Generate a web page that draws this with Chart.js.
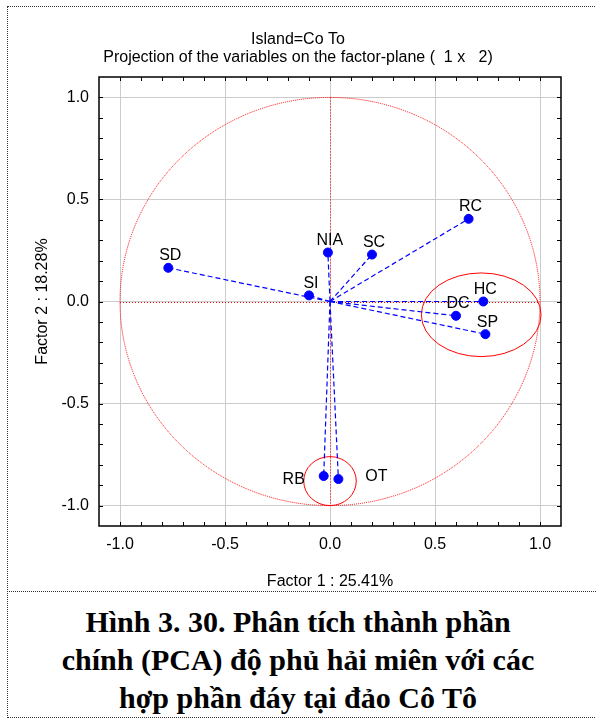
<!DOCTYPE html>
<html>
<head>
<meta charset="utf-8">
<script src="https://cdn.jsdelivr.net/npm/chart.js@4/dist/chart.umd.min.js"></script>
<style>
  html, body { margin: 0; padding: 0; background: #fff; }
  #wrap { position: relative; width: 596px; height: 720px; overflow: hidden; }
  #frame { position: absolute; left: 7px; top: 6px; width: 589px; height: 710px;
    border-left: 1px dotted #333; border-top: 1px dotted #333; border-bottom: 1px dotted #333; }
  #divider { position: absolute; left: 7px; top: 591px; width: 589px; border-top: 1px dotted #333; }
  #chart { position: absolute; left: 0; top: 0; }
  #caption { position: absolute; left: 0; top: 603px; width: 596px; text-align: center;
    font: bold 30px "Liberation Serif", "Times New Roman", serif; line-height: 38px; color: #000; }
</style>
</head>
<body>
<div id="wrap">
  <div id="frame"></div>
  <div id="divider"></div>
  <canvas id="chart" width="596" height="591"></canvas>
  <div id="caption">Hình 3. 30. Phân tích thành phần<br>chính (PCA) độ phủ hải miên với các<br>hợp phần đáy tại đảo Cô Tô</div>
</div>
<script>
// variable loadings on factor 1 and factor 2
const variables = ["SD", "SI", "NIA", "SC", "RC", "HC", "DC", "SP", "RB", "OT"];
const factor1 = [-0.77, -0.10, -0.01, 0.20, 0.66, 0.73, 0.60, 0.74, -0.03, 0.04];
const factor2 = [0.165, 0.03, 0.24, 0.23, 0.405, 0.0, -0.07, -0.16, -0.855, -0.87];

// groups circled on the plot
const groupX = [0.72, 0.0];
const groupY = [-0.065, -0.88];
const groupRadiusX = [0.285, 0.125];
const groupRadiusY = [0.205, 0.12];

const labelShift = {
  RB: [-30, 4],
  OT: [38, -2],
};

const FONT = "'Liberation Sans', Arial, sans-serif";

const isHalf = (v) => Math.abs(v * 2 - Math.round(v * 2)) < 1e-6;

const decor = {
  id: "decor",
  beforeDatasetsDraw(chart) {
    const { ctx, chartArea: a, scales: { x, y } } = chart;
    ctx.save();
    ctx.beginPath();
    ctx.rect(a.left, a.top, a.right - a.left, a.bottom - a.top);
    ctx.clip();
    // unit circle
    const cx = x.getPixelForValue(0), cy = y.getPixelForValue(0);
    const rx = x.getPixelForValue(1) - cx, ry = cy - y.getPixelForValue(1);
    ctx.strokeStyle = "#ff0000";
    ctx.lineWidth = 1;
    ctx.setLineDash([1, 1]);
    ctx.beginPath();
    ctx.ellipse(cx, cy, rx, ry, 0, 0, Math.PI * 2);
    ctx.stroke();
    // cross through origin
    ctx.setLineDash([1, 2]);
    ctx.beginPath();
    ctx.moveTo(x.getPixelForValue(-1), Math.round(cy) + 0.5);
    ctx.lineTo(x.getPixelForValue(1), Math.round(cy) + 0.5);
    ctx.moveTo(Math.round(cx) + 0.5, y.getPixelForValue(1));
    ctx.lineTo(Math.round(cx) + 0.5, y.getPixelForValue(-1));
    ctx.stroke();
    // group ellipses
    ctx.setLineDash([]);
    groupX.forEach((gx, i) => {
      const px = x.getPixelForValue(gx), py = y.getPixelForValue(groupY[i]);
      const prx = x.getPixelForValue(gx + groupRadiusX[i]) - px;
      const pry = py - y.getPixelForValue(groupY[i] + groupRadiusY[i]);
      ctx.beginPath();
      ctx.ellipse(px, py, prx, pry, 0, 0, Math.PI * 2);
      ctx.stroke();
    });
    ctx.restore();
  },
  afterDatasetsDraw(chart) {
    const { ctx, chartArea: a, scales: { x, y } } = chart;
    ctx.save();
    // labels
    ctx.fillStyle = "#000";
    ctx.font = "16px " + FONT;
    ctx.textAlign = "center";
    ctx.textBaseline = "middle";
    variables.forEach((name, i) => {
      const s = labelShift[name] || [2, -12];
      ctx.fillText(name, x.getPixelForValue(factor1[i]) + s[0], y.getPixelForValue(factor2[i]) + s[1]);
    });
    // frame and inner ticks
    ctx.strokeStyle = "#000";
    ctx.lineWidth = 1.5;
    ctx.strokeRect(a.left, a.top, a.right - a.left, a.bottom - a.top);
    ctx.lineWidth = 1;
    ctx.beginPath();
    for (let i = -10; i <= 10; i++) {
      const px = Math.round(x.getPixelForValue(i / 10)) + 0.5;
      const py = Math.round(y.getPixelForValue(i / 10)) + 0.5;
      ctx.moveTo(px, a.top); ctx.lineTo(px, a.top + 4);
      ctx.moveTo(px, a.bottom); ctx.lineTo(px, a.bottom - 4);
      ctx.moveTo(a.left, py); ctx.lineTo(a.left + 4, py);
      ctx.moveTo(a.right, py); ctx.lineTo(a.right - 4, py);
    }
    ctx.stroke();
    ctx.restore();
  },
};

const vectorSets = variables.map((name, i) => ({
  type: "line",
  data: [{ x: 0, y: 0 }, { x: factor1[i], y: factor2[i] }],
  borderColor: "#0000ff",
  borderWidth: 1.2,
  borderDash: [5, 3],
  pointRadius: 0,
  fill: false,
}));

const axisTicks = {
  stepSize: 0.1,
  autoSkip: false,
  maxRotation: 0,
  color: "#000",
  font: { family: FONT, size: 16 },
  callback: (v) => (isHalf(v) ? (Math.abs(v) < 1e-9 ? "0.0" : v.toFixed(1)) : ""),
};

const gridStyle = {
  drawTicks: false,
  color: (c) => (c.tick && isHalf(c.tick.value) && Math.abs(c.tick.value) <= 1.0001 ? "#cccccc" : "rgba(0,0,0,0)"),
};

new Chart(document.getElementById("chart"), {
  type: "scatter",
  data: {
    datasets: [
      ...vectorSets,
      {
        data: variables.map((n, i) => ({ x: factor1[i], y: factor2[i] })),
        backgroundColor: "#0000ff",
        borderColor: "#0000ff",
        pointRadius: 4.5,
      },
    ],
  },
  plugins: [decor],
  options: {
    responsive: false,
    animation: false,
    layout: { padding: 0 },
    plugins: {
      legend: { display: false },
      tooltip: { enabled: false },
      title: {
        display: true,
        text: ["Island=Co To", "Projection of the variables on the factor-plane (  1 x   2)"],
        color: "#000",
        font: { family: FONT, size: 16, weight: "normal", lineHeight: 1.125 },
        padding: { top: 31, bottom: 10 },
      },
    },
    scales: {
      x: {
        type: "linear",
        min: -1.1,
        max: 1.1,
        ticks: { ...axisTicks, padding: 9 },
        grid: gridStyle,
        border: { display: false },
        title: {
          display: true,
          text: "Factor 1 : 25.41%",
          color: "#000",
          font: { family: FONT, size: 16 },
          padding: { top: 6, bottom: 0 },
        },
        afterFit: (s) => { s.height = 65; },
      },
      y: {
        type: "linear",
        min: -1.1,
        max: 1.1,
        ticks: { ...axisTicks, padding: 10 },
        grid: gridStyle,
        border: { display: false },
        title: {
          display: true,
          text: "Factor 2 : 18.28%",
          color: "#000",
          font: { family: FONT, size: 16 },
          padding: { top: 33, bottom: 0 },
        },
        afterFit: (s) => { s.width = 99; },
      },
      // empty margin on the right so the title centres on the whole figure
      yRight: {
        type: "linear",
        position: "right",
        min: -1.1,
        max: 1.1,
        ticks: { display: false },
        grid: { display: false, drawOnChartArea: false },
        border: { display: false },
        afterFit: (s) => { s.width = 35; },
      },
    },
  },
});
</script>
</body>
</html>
